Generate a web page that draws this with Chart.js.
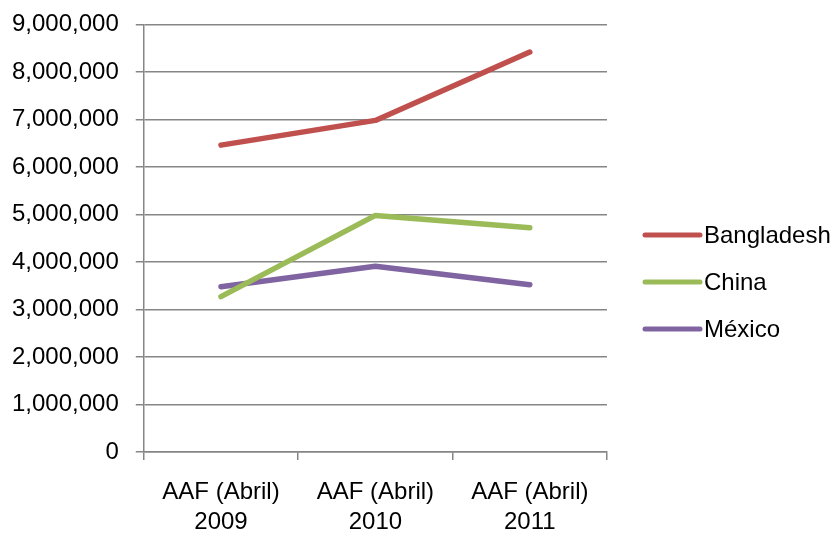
<html>
  <head>
    <meta charset="utf-8" />
    <script src="https://cdn.jsdelivr.net/npm/chart.js@4.4.0/dist/chart.umd.min.js"></script>
    <style>
      body { margin: 0; background: #fff; }
      #wrap { width: 830px; height: 536px; }
    </style>
  </head>
  <body>
    <div id="wrap">
      <canvas id="myChart"></canvas>
    </div>
    <script>
      const categories = [
        ["AAF (Abril)", "2009"],
        ["AAF (Abril)", "2010"],
        ["AAF (Abril)", "2011"],
      ];
      const bangladesh = [6460000, 6980000, 8420000];
      const china = [3270000, 4980000, 4720000];
      const mexico = [3480000, 3910000, 3520000];

      const FONT = "'Liberation Sans', Arial, sans-serif";
      const GRID = "#868686";

      // legend drawn by hand so it sits where the original one does
      const sideLegend = {
        id: "sideLegend",
        afterDraw(chart) {
          const ctx = chart.ctx;
          const x0 = 645, lineW = 55, y0 = 235, step = 47;
          ctx.save();
          ctx.font = "24px " + FONT;
          ctx.textBaseline = "middle";
          ctx.textAlign = "left";
          chart.data.datasets.forEach((ds, i) => {
            const y = y0 + i * step;
            ctx.strokeStyle = ds.borderColor;
            ctx.lineWidth = 5;
            ctx.lineCap = "round";
            ctx.beginPath();
            ctx.moveTo(x0, y);
            ctx.lineTo(x0 + lineW, y);
            ctx.stroke();
            ctx.fillStyle = "#000";
            ctx.fillText(ds.label, x0 + lineW + 4, y + 1);
          });
          ctx.restore();
        },
      };

      const config = {
        type: "line",
        data: {
          labels: categories,
          datasets: [
            { label: "Bangladesh", data: bangladesh, borderColor: "#C0504D", backgroundColor: "#C0504D" },
            { label: "China", data: china, borderColor: "#9BBB59", backgroundColor: "#9BBB59" },
            { label: "México", data: mexico, borderColor: "#8064A2", backgroundColor: "#8064A2" },
          ],
        },
        options: {
          responsive: true,
          maintainAspectRatio: false,
          animation: false,
          elements: {
            line: { borderWidth: 5.5, tension: 0, borderCapStyle: "round", borderJoinStyle: "round" },
            point: { radius: 0, hoverRadius: 0 },
          },
          layout: { padding: { top: 2, left: -5, right: 223, bottom: -18 } },
          scales: {
            x: {
              offset: true,
              grid: {
                offset: true,
                drawOnChartArea: false,
                drawTicks: true,
                tickLength: 8,
                color: GRID,
                lineWidth: 1.5,
              },
              border: { color: GRID, width: 1.5 },
              ticks: {
                color: "#000",
                font: { family: FONT, size: 24, lineHeight: 1.25 },
                padding: 17,
                maxRotation: 0,
              },
            },
            y: {
              min: 0,
              max: 9000000,
              grid: { color: GRID, lineWidth: 1.5, tickLength: 8 },
              border: { color: GRID, width: 1.5 },
              ticks: {
                stepSize: 1000000,
                color: "#000",
                font: { family: FONT, size: 24, lineHeight: 0.62 },
                padding: 17,
                callback: (v) => v.toLocaleString("en-US"),
              },
            },
          },
          plugins: {
            legend: { display: false },
            tooltip: { enabled: false },
          },
        },
        plugins: [sideLegend],
      };

      const myChart = new Chart(document.getElementById("myChart"), config);
    </script>
  </body>
</html>
